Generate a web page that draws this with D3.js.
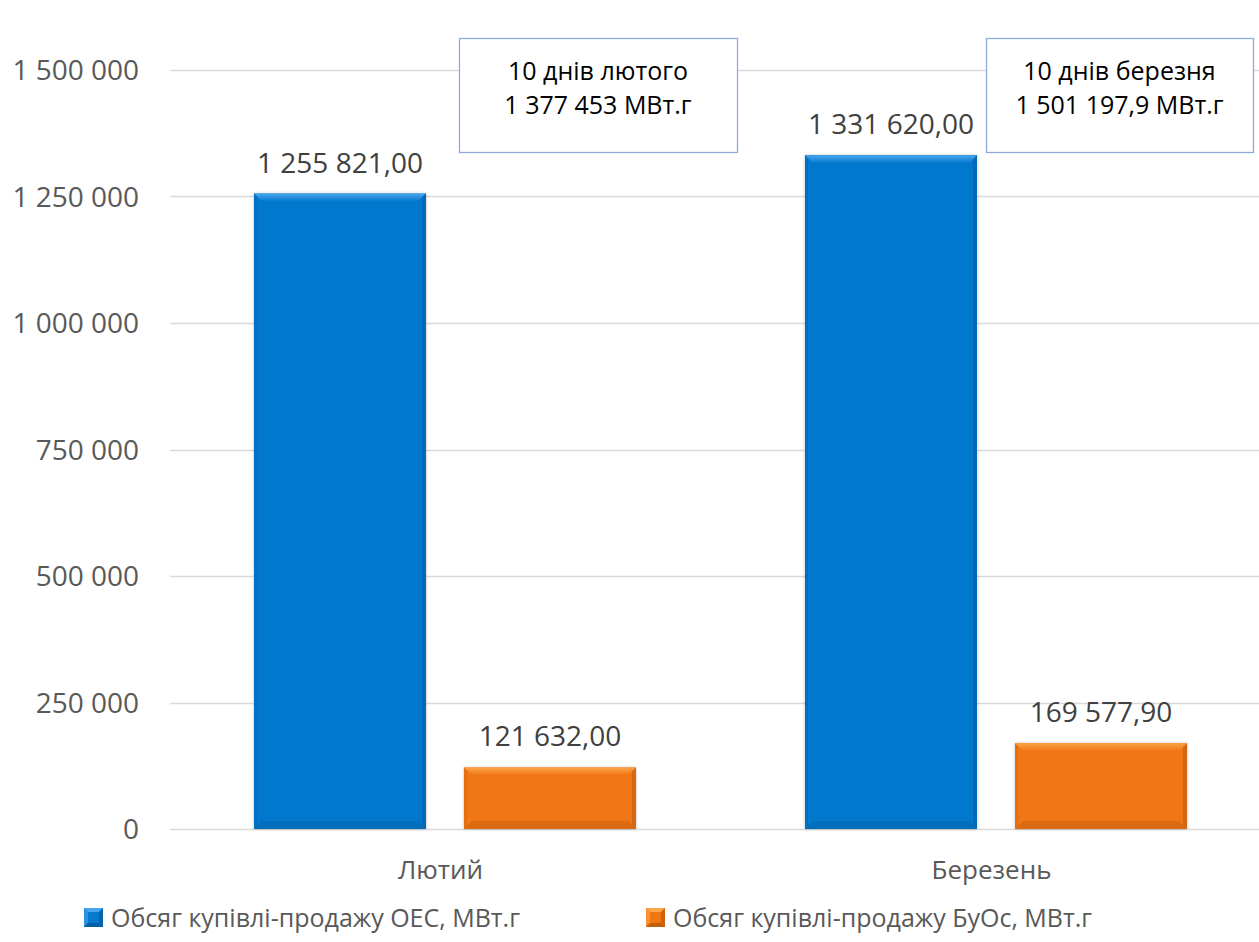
<!DOCTYPE html>
<html><head><meta charset="utf-8">
<script src="https://cdn.jsdelivr.net/npm/d3@7"></script>
<style>
html,body{margin:0;padding:0;background:#fff;}
svg{display:block;font-family:"Open Sans",sans-serif;}
</style></head>
<body>
<svg id="chart" width="1259" height="942"></svg>
<script>
const categories = ["Лютий", "Березень"];
const seriesNames = ["Обсяг купівлі-продажу ОЕС, МВт.г", "Обсяг купівлі-продажу БуОс, МВт.г"];
const oesValues = [1255821.00, 1331620.00];
const buosValues = [121632.00, 169577.90];
const valueLabels = [["1 255 821,00", "121 632,00"], ["1 331 620,00", "169 577,90"]];
const yTicks = [0, 250000, 500000, 750000, 1000000, 1250000, 1500000];
const yTickLabels = ["0", "250 000", "500 000", "750 000", "1 000 000", "1 250 000", "1 500 000"];
const boxLines = [["10 днів лютого", "1 377 453 МВт.г"], ["10 днів березня", "1 501 197,9 МВт.г"]];

(function () {
const svg = d3.select("#chart");
const W = 1259, H = 942;
const pLeft = 170, pRight = 1272, pTop = 70, pBottom = 829;

const x = d3.scaleBand().domain(categories).range([pLeft, pRight]).padding(0);
const xs = d3.scaleBand().domain([0, 1]).range([84, 466]).paddingInner(38 / 210).paddingOuter(0);
const y = d3.scaleLinear().domain([0, 1500000]).range([pBottom, pTop]);

const palettes = [
  {main: "#0678CD", light: "#45A6EE", dark: "#055FA6", side: "#066BBA"},
  {main: "#F07613", light: "#FBA44A", dark: "#C45E0A", side: "#DC6C10"}
];

const defs = svg.append("defs");
palettes.forEach((p, i) => {
  const g = defs.append("linearGradient").attr("id", "topg" + i).attr("x1", 0).attr("y1", 0).attr("x2", 0).attr("y2", 1);
  g.append("stop").attr("offset", 0).attr("stop-color", p.light);
  g.append("stop").attr("offset", 1).attr("stop-color", p.main);
  const s = defs.append("filter").attr("id", "sh" + i).attr("x", "-10%").attr("y", "-10%").attr("width", "120%").attr("height", "120%");
  s.append("feDropShadow").attr("dx", 0).attr("dy", 0).attr("stdDeviation", 1.5).attr("flood-color", "#000").attr("flood-opacity", 0.25);
});

svg.append("g").selectAll("line").data(yTicks).join("line")
  .attr("x1", pLeft).attr("x2", W)
  .attr("y1", d => Math.round(y(d)) + 0.5).attr("y2", d => Math.round(y(d)) + 0.5)
  .attr("stroke", "#D9D9D9").attr("stroke-width", 1.3);

svg.append("g").selectAll("text").data(yTicks).join("text")
  .attr("x", 139).attr("y", d => y(d))
  .attr("dy", "0.36em")
  .attr("text-anchor", "end")
  .attr("font-size", 28).attr("fill", "#595959")
  .text((d, i) => yTickLabels[i]);

function bevelBar(g, x0, y0, w, h, si) {
  const p = palettes[si];
  const b = Math.min(8, h / 2);
  const x1 = x0 + w, y1 = y0 + h;
  g.append("rect").attr("x", x0).attr("y", y0).attr("width", w).attr("height", h)
    .attr("fill", p.main).attr("filter", `url(#sh${si})`);
  g.append("polygon").attr("points", [[x0, y0], [x1, y0], [x1 - b, y0 + b], [x0 + b, y0 + b]].join(" "))
    .attr("fill", `url(#topg${si})`);
  g.append("polygon").attr("points", [[x0, y1], [x1, y1], [x1 - b, y1 - b], [x0 + b, y1 - b]].join(" "))
    .attr("fill", p.dark).attr("opacity", 0.45);
  g.append("polygon").attr("points", [[x0, y0], [x0 + 3, y0 + 3], [x0 + 3, y1 - 3], [x0, y1]].join(" "))
    .attr("fill", p.side).attr("opacity", 0.6);
  g.append("polygon").attr("points", [[x1, y0], [x1 - 4, y0 + 4], [x1 - 4, y1 - 4], [x1, y1]].join(" "))
    .attr("fill", p.dark).attr("opacity", 0.6);
}

const seriesVals = [oesValues, buosValues];
const barsG = svg.append("g");
categories.forEach((c, ci) => {
  [0, 1].forEach(si => {
    const v = seriesVals[si][ci];
    const bx = x(c) + xs(si);
    const by = y(v);
    bevelBar(barsG, bx, by, xs.bandwidth(), y(0) - by, si);
    barsG.append("text")
      .attr("x", bx + xs.bandwidth() / 2).attr("y", by - 21)
      .attr("text-anchor", "middle").attr("font-size", 28).attr("fill", "#404040")
      .text(valueLabels[ci][si]);
  });
});

svg.append("g").selectAll("text").data(categories).join("text")
  .attr("x", d => x(d) + x.bandwidth() / 2 - 5).attr("y", 870).attr("dy", "0.36em")
  .attr("text-anchor", "middle").attr("font-size", 26).attr("fill", "#595959")
  .text(d => d);

const boxLayout = [{x: 459, w: 278}, {x: 986, w: 267}];
boxLines.forEach((lines, i) => {
  const L = boxLayout[i];
  const g = svg.append("g");
  g.append("rect").attr("x", L.x + 0.5).attr("y", 38.5).attr("width", L.w).attr("height", 114)
    .attr("fill", "#fff").attr("stroke", "#8EA9DB").attr("stroke-width", 1.3);
  lines.forEach((t, j) => {
    g.append("text").attr("x", L.x + L.w / 2).attr("y", 71 + j * 34).attr("dy", "0.36em")
      .attr("text-anchor", "middle").attr("font-size", 25).attr("fill", "#000").text(t);
  });
});

const legendX = [84, 646];
seriesNames.forEach((n, i) => {
  const g = svg.append("g");
  const p = palettes[i];
  const lx = legendX[i], ly = 908, s = 19;
  g.append("rect").attr("x", lx).attr("y", ly).attr("width", s).attr("height", s).attr("fill", p.main);
  g.append("polygon").attr("points", [[lx, ly], [lx + s, ly], [lx + s - 4, ly + 4], [lx + 4, ly + 4]].join(" ")).attr("fill", p.light);
  g.append("polygon").attr("points", [[lx, ly], [lx + 4, ly + 4], [lx + 4, ly + s - 4], [lx, ly + s]].join(" ")).attr("fill", p.light).attr("opacity", 0.6);
  g.append("polygon").attr("points", [[lx, ly + s], [lx + s, ly + s], [lx + s - 4, ly + s - 4], [lx + 4, ly + s - 4]].join(" ")).attr("fill", p.dark);
  g.append("polygon").attr("points", [[lx + s, ly], [lx + s - 4, ly + 4], [lx + s - 4, ly + s - 4], [lx + s, ly + s]].join(" ")).attr("fill", p.dark).attr("opacity", 0.8);
  g.append("text").attr("x", lx + 27).attr("y", ly + s / 2).attr("dy", "0.36em")
    .attr("font-size", 25).attr("fill", "#595959").text(n);
});
})();
</script>
</body></html>
